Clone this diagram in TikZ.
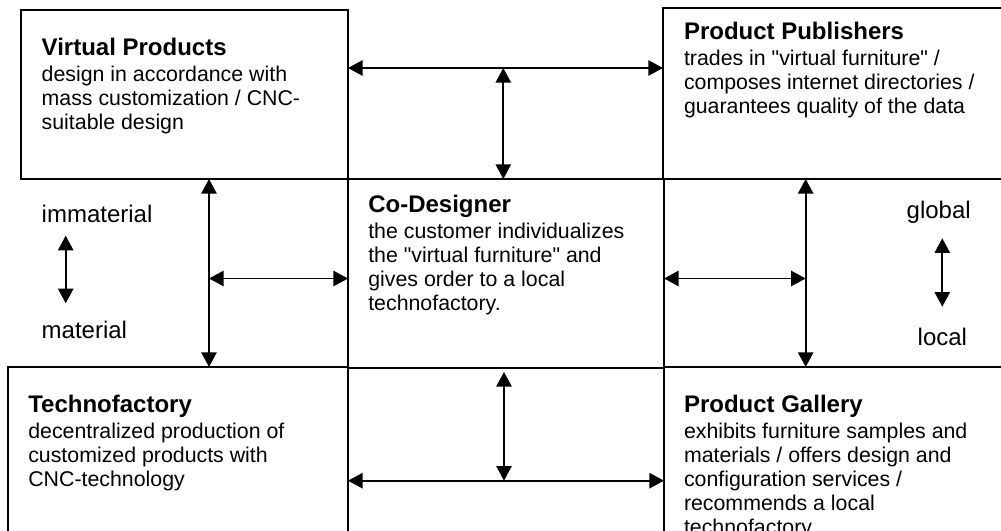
\documentclass[tikz,border=0pt]{standalone}
\usepackage{fontspec}
\setmainfont{Liberation Sans}[Ligatures=TeXOff]
\usetikzlibrary{arrows.meta,fit}
\tikzset{
  box/.style={draw, line width=1.35pt, inner sep=0pt, outer sep=0pt},
  arr/.style={{Triangle[length=11pt,width=11.5pt]}-{Triangle[length=11pt,width=11.5pt]}, line width=1.35pt},
  txt/.style={anchor=base west, inner sep=0pt, outer sep=0pt},
  lbl/.style={anchor=base west, inner sep=0pt, outer sep=0pt, font=\fontsize{18}{21}\selectfont},
}
\newcommand\boxtext[2]{\parbox[t]{330pt}{\raggedright\fontsize{16}{18}\selectfont{\fontsize{18}{18}\selectfont\bfseries #1}\\[1.3pt]#2}}
\begin{document}
\begin{tikzpicture}[x=0.75pt,y=-0.75pt]
\useasboundingbox (0,0) rectangle (1001,531);
\clip (0,0) rectangle (1001,531);
% boxes
\node[box, fit={(21,10) (348,179)}] (vp) {};
\node[box, fit={(663,8) (1015,179)}] (pp) {};
\node[box, fit={(348,179) (664,368)}] (cd) {};
\node[box, fit={(8,367) (348,545)}] (tf) {};
\node[box, fit={(664,367) (1015,545)}] (pg) {};
% texts
\node[txt] (vpt) at (41.7,55.7) {\boxtext{Virtual Products}{design in accordance with\\mass customization / CNC-\\suitable design}};
\node[txt] (ppt) at (684,40) {\boxtext{Product Publishers}{trades in "virtual furniture" /\\composes internet directories /\\guarantees quality of the data}};
\node[txt] (cdt) at (368.3,212.7) {\boxtext{Co-Designer}{the customer individualizes\\the "virtual furniture" and\\gives order to a local\\technofactory.}};
\node[txt] (tft) at (28.3,412.7) {\boxtext{Technofactory}{decentralized production of\\customized products with\\CNC-technology}};
\node[txt] (pgt) at (684,412.7) {\boxtext{Product Gallery}{exhibits furniture samples and\\materials / offers design and\\configuration services /\\recommends a local\\technofactory.}};
% side labels
\node[lbl] (imm) at (41.7,222.3) {immaterial};
\node[lbl] (mat) at (41.7,338.3) {material};
\node[lbl] (glo) at (906.7,218.3) {global};
\node[lbl] (loc) at (917.7,346) {local};
% helper coordinates
\coordinate (ya) at (0,68);
\coordinate (tv) at (503.3,68);
\coordinate (lv) at (209,0);
\coordinate (rv) at (805.7,0);
\coordinate (lh) at (0,278.5);
\coordinate (bv1) at (504,372);
\coordinate (bv2) at (504,480.7);
\coordinate (bh) at (0,480.7);
\coordinate (ia) at (65.7,235.7);
\coordinate (ib) at (65.7,303.3);
\coordinate (ga) at (942.3,238.3);
\coordinate (gb) at (942.3,306.7);
% connectors
\draw[arr] (vp.east |- ya) -- (pp.west |- ya);
\draw[arr] (tv) -- (tv |- cd.north);
\draw[arr] (vp.south -| lv) -- (tf.north -| lv);
\draw[arr] (lv |- lh) -- (cd.west |- lh);
\draw[arr] (pp.south -| rv) -- (pg.north -| rv);
\draw[arr] (cd.east |- lh) -- (rv |- lh);
\draw[arr] (bv1) -- (bv2);
\draw[arr] (tf.east |- bh) -- (pg.west |- bh);
\draw[arr] (ia) -- (ib);
\draw[arr] (ga) -- (gb);
\end{tikzpicture}
\end{document}
